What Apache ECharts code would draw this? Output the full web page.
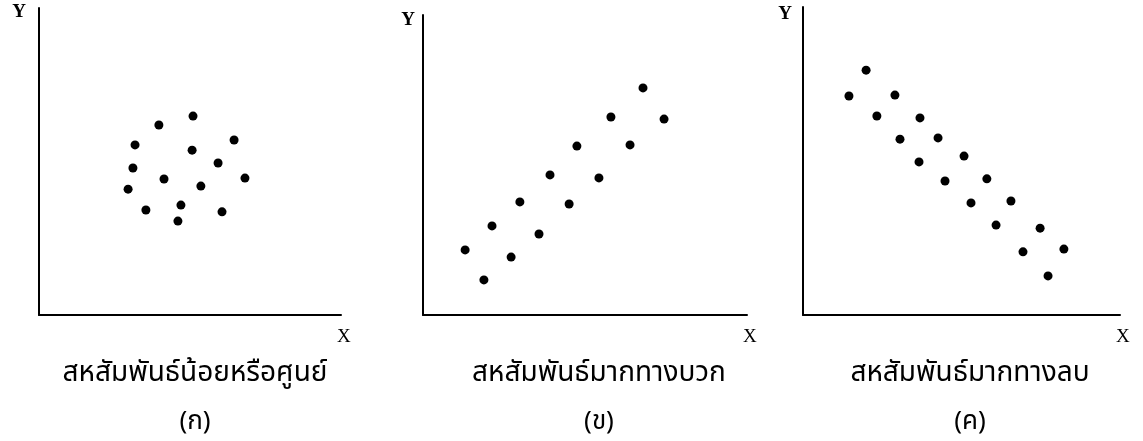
<!DOCTYPE html>
<html>
<head>
<meta charset="utf-8">
<script src="https://cdn.jsdelivr.net/npm/echarts@6/dist/echarts.min.js"></script>
<style>
  html, body { margin: 0; padding: 0; background: #fff; }
  #chart { width: 1143px; height: 441px; }
</style>
</head>
<body>
<div id="chart"></div>
<script>
// Panel captions and sub-labels
const panelTitles = ['สหสัมพันธ์น้อยหรือศูนย์', 'สหสัมพันธ์มากทางบวก', 'สหสัมพันธ์มากทางลบ'];
const panelTags = ['(ก)', '(ข)', '(ค)'];

// (ก) weak / zero correlation: [x, y]
const pointsWeak = [
  [51.0, 64.8], [39.7, 61.9], [31.8, 55.4], [64.6, 57.0], [50.7, 53.7],
  [31.1, 47.9], [59.3, 49.5], [41.4, 44.3], [68.2, 44.6], [53.6, 42.0],
  [29.5, 41.0], [47.0, 35.8], [35.4, 34.2], [60.6, 33.6], [46.0, 30.6]
];

// (ข) strong positive correlation
const pointsPositive = [
  [67.9, 75.7], [58.0, 66.0], [74.4, 65.3], [47.5, 56.3], [63.9, 56.7],
  [39.2, 46.7], [54.3, 45.7], [29.9, 37.7], [45.1, 37.0], [21.3, 29.7],
  [35.8, 27.0], [13.0, 21.7], [27.2, 19.3], [18.8, 11.7]
];

// (ค) strong negative correlation
const pointsNegative = [
  [19.9, 79.5], [14.5, 71.1], [29.0, 71.4], [23.3, 64.6], [36.9, 64.0],
  [30.6, 57.1], [42.6, 57.5], [50.8, 51.6], [36.6, 49.7], [44.8, 43.5],
  [58.0, 44.2], [53.0, 36.4], [65.6, 37.0], [60.9, 29.2], [74.8, 28.2],
  [69.4, 20.5], [82.3, 21.4], [77.3, 12.7]
];

const axisNames = { x: 'X', y: 'Y' };

const chart = echarts.init(document.getElementById('chart'), null, { renderer: 'canvas' });

// One grid per panel; axis origin sits at the grid's bottom-left corner
const grids = [
  { left: 39, top: 8, width: 302, height: 307 },
  { left: 423, top: 15, width: 324, height: 300 },
  { left: 803, top: 7, width: 317, height: 308 }
];
const yNameGap = [-4, -5, -7];
const yNamePad = [13, 8, 11];
const captionCenters = [190, 594, 965];

const serifFont = '"Liberation Serif", "DejaVu Serif", serif';
const thaiFont = '"Noto Sans Thai", "Noto Sans Thai UI", "Loma", "Garuda", "Tlwg Typo", "Noto Sans", sans-serif';

const lineStyle = { color: '#000', width: 2 };

const xAxes = grids.map((g, i) => ({
  type: 'value', gridIndex: i, min: 0, max: 100,
  axisLine: { show: true, lineStyle, onZero: false },
  axisTick: { show: false }, axisLabel: { show: false }, splitLine: { show: false },
  name: axisNames.x, nameLocation: 'end', nameGap: -4,
  nameTextStyle: { color: '#000', fontFamily: serifFont, fontSize: 19, align: 'left', verticalAlign: 'top', padding: [13, 0, 0, 0] }
}));
const yAxes = grids.map((g, i) => ({
  type: 'value', gridIndex: i, min: 0, max: 100,
  axisLine: { show: true, lineStyle, onZero: false },
  axisTick: { show: false }, axisLabel: { show: false }, splitLine: { show: false },
  name: axisNames.y, nameLocation: 'end', nameGap: yNameGap[i],
  nameTextStyle: { color: '#000', fontFamily: serifFont, fontSize: 19, fontWeight: 'bold', align: 'right', verticalAlign: 'middle', padding: [0, yNamePad[i], 0, 0] }
}));

const datasets = [pointsWeak, pointsPositive, pointsNegative];
const series = datasets.map((pts, i) => ({
  type: 'scatter', xAxisIndex: i, yAxisIndex: i, data: pts,
  symbol: 'circle', symbolSize: 9,
  itemStyle: { color: '#000', opacity: 1 }, silent: true
}));

const titles = [];
panelTitles.forEach((t, i) => {
  titles.push({
    text: t, left: captionCenters[i], top: 356, textAlign: 'center',
    textStyle: { color: '#000', fontFamily: thaiFont, fontSize: 28, fontWeight: 'normal' }
  });
  titles.push({
    text: panelTags[i], left: captionCenters[i], top: 406, textAlign: 'center',
    textStyle: { color: '#000', fontFamily: thaiFont, fontSize: 26, fontWeight: 'normal' }
  });
});

chart.setOption({
  backgroundColor: '#fff',
  animation: false,
  title: titles,
  grid: grids,
  xAxis: xAxes,
  yAxis: yAxes,
  series
});
</script>
</body>
</html>
